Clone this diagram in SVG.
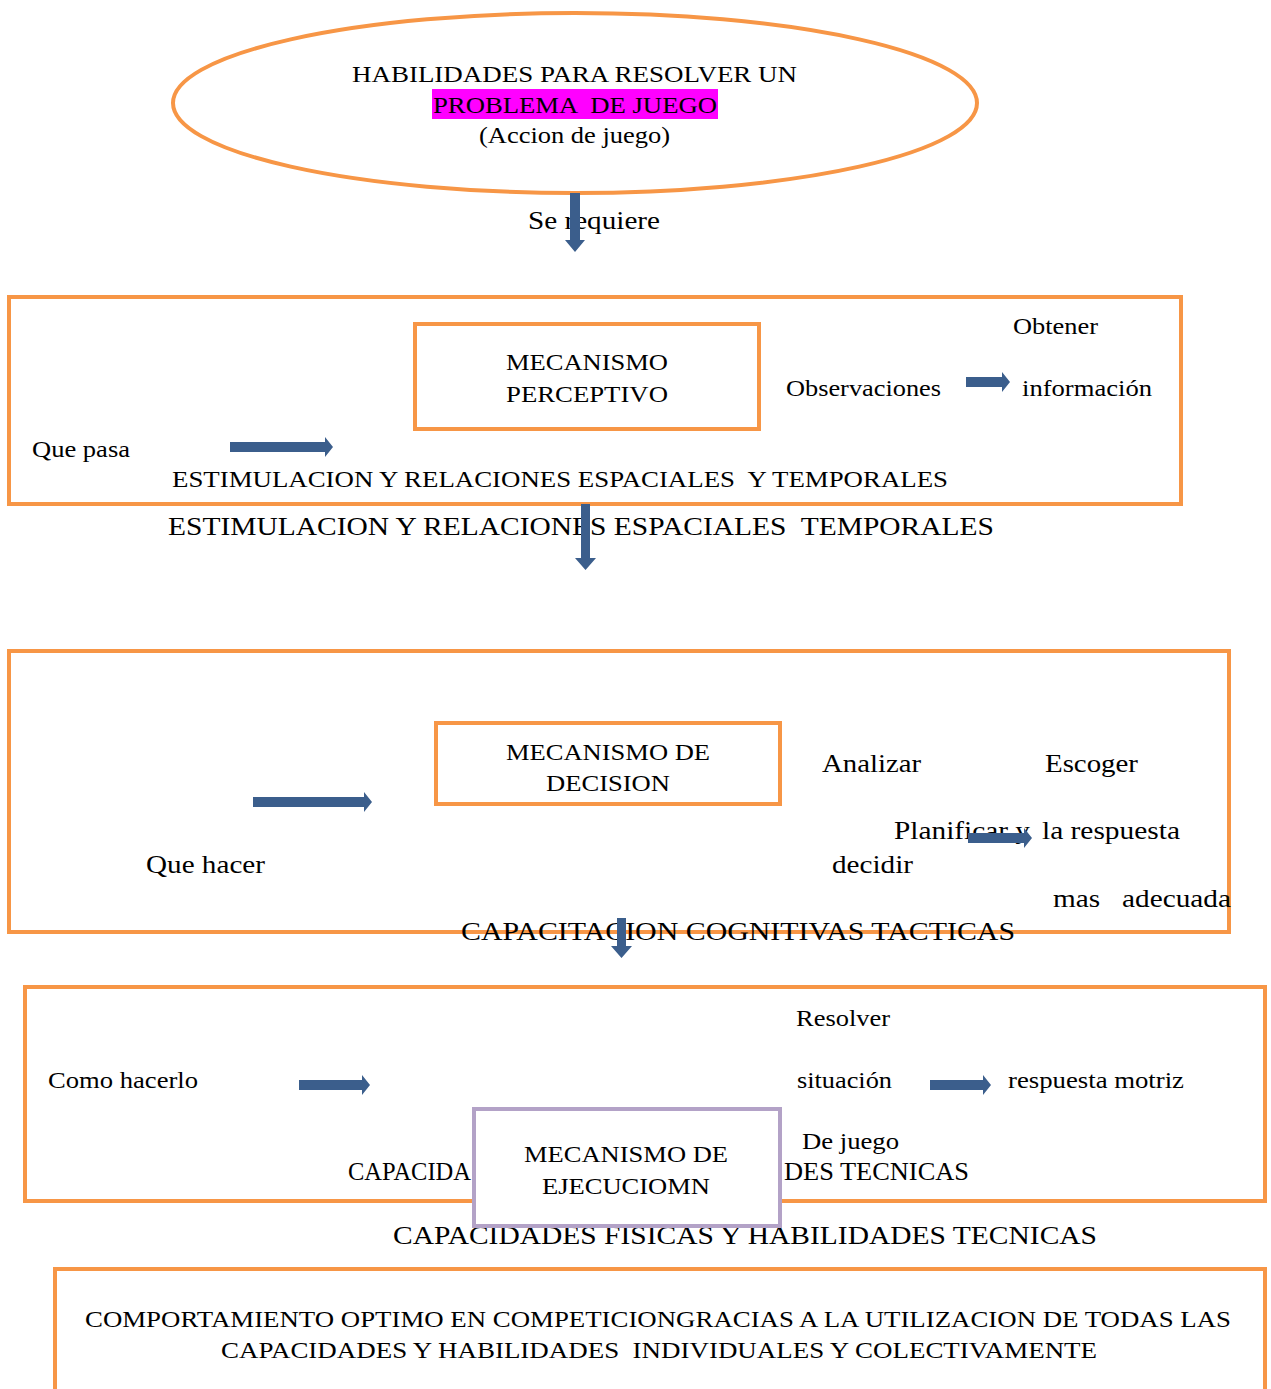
<svg xmlns="http://www.w3.org/2000/svg" width="1271" height="1389" viewBox="0 0 1271 1389">
<style>
.t{font-family:"Liberation Serif","Times New Roman",serif;fill:#000;white-space:pre}
.s24{font-size:24px}
.s26{font-size:26px}
.ob{fill:none;stroke:#F79646;stroke-width:4}
.ar{fill:#3B5E8C}
</style>
<rect width="1271" height="1389" fill="#fff"/>
<g id="node-top">
<ellipse cx="575" cy="103" rx="402" ry="90" class="ob"/>
<rect x="432" y="89" width="286" height="30" fill="#FF00FF"/>
<text class="t s24" x="352" y="82" textLength="445" lengthAdjust="spacingAndGlyphs">HABILIDADES PARA RESOLVER UN</text>
<text class="t s24" x="433" y="113" textLength="284" lengthAdjust="spacingAndGlyphs" xml:space="preserve">PROBLEMA  DE JUEGO</text>
<text class="t s24" x="479" y="143" textLength="191" lengthAdjust="spacingAndGlyphs">(Accion de juego)</text>
</g>
<g id="label-se-requiere">
<text class="t s26" x="528" y="229" textLength="132" lengthAdjust="spacingAndGlyphs">Se requiere</text>
</g>
<g id="node-perceptivo-frame">
<rect x="9" y="297" width="1172" height="207" class="ob"/>
<text class="t s24" x="1013" y="334" textLength="85" lengthAdjust="spacingAndGlyphs">Obtener</text>
<text class="t s24" x="786" y="396" textLength="155" lengthAdjust="spacingAndGlyphs">Observaciones</text>
<text class="t s24" x="1022" y="396" textLength="130" lengthAdjust="spacingAndGlyphs">información</text>
<text class="t s24" x="32" y="457" textLength="98" lengthAdjust="spacingAndGlyphs">Que pasa</text>
<text class="t s24" x="172" y="487" textLength="776" lengthAdjust="spacingAndGlyphs" xml:space="preserve">ESTIMULACION Y RELACIONES ESPACIALES  Y TEMPORALES</text>
</g>
<g id="node-perceptivo">
<rect x="415" y="324" width="344" height="105" fill="#fff" class="ob"/>
<text class="t s24" x="587" y="370" text-anchor="middle" textLength="162" lengthAdjust="spacingAndGlyphs">MECANISMO</text>
<text class="t s24" x="587" y="402" text-anchor="middle" textLength="162" lengthAdjust="spacingAndGlyphs">PERCEPTIVO</text>
</g>
<g id="label-estimulacion">
<text class="t s26" x="168" y="535" textLength="826" lengthAdjust="spacingAndGlyphs" xml:space="preserve">ESTIMULACION Y RELACIONES ESPACIALES  TEMPORALES</text>
</g>
<g id="node-decision-frame">
<rect x="9" y="651" width="1220" height="281" class="ob"/>
<text class="t s26" x="822" y="772" textLength="99" lengthAdjust="spacingAndGlyphs">Analizar</text>
<text class="t s26" x="1045" y="772" textLength="93" lengthAdjust="spacingAndGlyphs">Escoger</text>
<text class="t s26" x="894" y="839" textLength="136" lengthAdjust="spacingAndGlyphs">Planificar y</text>
<text class="t s26" x="1042" y="839" textLength="138" lengthAdjust="spacingAndGlyphs">la respuesta</text>
<text class="t s26" x="832" y="873" textLength="81" lengthAdjust="spacingAndGlyphs">decidir</text>
<text class="t s26" x="146" y="873" textLength="119" lengthAdjust="spacingAndGlyphs">Que hacer</text>
<text class="t s26" x="1053" y="907" textLength="178" lengthAdjust="spacingAndGlyphs" xml:space="preserve">mas   adecuada</text>
<text class="t s26" x="461" y="940" textLength="554" lengthAdjust="spacingAndGlyphs">CAPACITACION COGNITIVAS TACTICAS</text>
</g>
<g id="node-decision">
<rect x="436" y="723" width="344" height="81" fill="#fff" class="ob"/>
<text class="t s24" x="608" y="760" text-anchor="middle" textLength="204" lengthAdjust="spacingAndGlyphs">MECANISMO DE</text>
<text class="t s24" x="608" y="791" text-anchor="middle" textLength="124" lengthAdjust="spacingAndGlyphs">DECISION</text>
</g>
<g id="node-ejecucion-frame">
<rect x="25" y="987" width="1240" height="214" class="ob"/>
<text class="t s24" x="796" y="1026" textLength="94" lengthAdjust="spacingAndGlyphs">Resolver</text>
<text class="t s24" x="797" y="1088" textLength="95" lengthAdjust="spacingAndGlyphs">situación</text>
<text class="t s24" x="48" y="1088" textLength="150" lengthAdjust="spacingAndGlyphs">Como hacerlo</text>
<text class="t s24" x="1008" y="1088" textLength="176" lengthAdjust="spacingAndGlyphs">respuesta motriz</text>
<text class="t s24" x="802" y="1149" textLength="97" lengthAdjust="spacingAndGlyphs">De juego</text>
<text class="t s26" x="348" y="1180" textLength="123" lengthAdjust="spacingAndGlyphs">CAPACIDA</text>
<text class="t s26" x="784" y="1180" textLength="185" lengthAdjust="spacingAndGlyphs">DES TECNICAS</text>
</g>
<g id="label-capacidades">
<text class="t s26" x="393" y="1244" textLength="704" lengthAdjust="spacingAndGlyphs">CAPACIDADES FISICAS Y HABILIDADES TECNICAS</text>
</g>
<g id="node-ejecucion">
<rect x="474" y="1109" width="306" height="117" fill="#fff" stroke="#B3A2C7" stroke-width="4"/>
<text class="t s24" x="626" y="1162" text-anchor="middle" textLength="204" lengthAdjust="spacingAndGlyphs">MECANISMO DE</text>
<text class="t s24" x="626" y="1194" text-anchor="middle" textLength="168" lengthAdjust="spacingAndGlyphs">EJECUCIOMN</text>
</g>
<g id="node-comportamiento">
<rect x="55" y="1269" width="1210" height="130" class="ob"/>
<text class="t s24" x="85" y="1327" textLength="1146" lengthAdjust="spacingAndGlyphs">COMPORTAMIENTO OPTIMO EN COMPETICIONGRACIAS A LA UTILIZACION DE TODAS LAS</text>
<text class="t s24" x="221" y="1358" textLength="876" lengthAdjust="spacingAndGlyphs" xml:space="preserve">CAPACIDADES Y HABILIDADES  INDIVIDUALES Y COLECTIVAMENTE</text>
</g>
<g id="connectors">
<polygon class="ar" points="570,193 580,193 580,240 585,240 575,252 565,240 570,240"/>
<polygon class="ar" points="581,504 590,504 590,558 596,558 585.5,570 575,558 581,558"/>
<polygon class="ar" points="617,918 626,918 626,946 632,946 621.5,958 611,946 617,946"/>
<polygon class="ar" points="230,442 325,442 325,437 333,447 325,457 325,452 230,452"/>
<polygon class="ar" points="966,377 1002,377 1002,372 1010,382 1002,392 1002,387 966,387"/>
<polygon class="ar" points="253,797 364,797 364,792 372,802 364,812 364,807 253,807"/>
<polygon class="ar" points="968,833 1024,833 1024,828 1032,838 1024,848 1024,843 968,843"/>
<polygon class="ar" points="299,1080 362,1080 362,1075 370,1085 362,1095 362,1090 299,1090"/>
<polygon class="ar" points="930,1080 983,1080 983,1075 991,1085 983,1095 983,1090 930,1090"/>
</g>
</svg>
